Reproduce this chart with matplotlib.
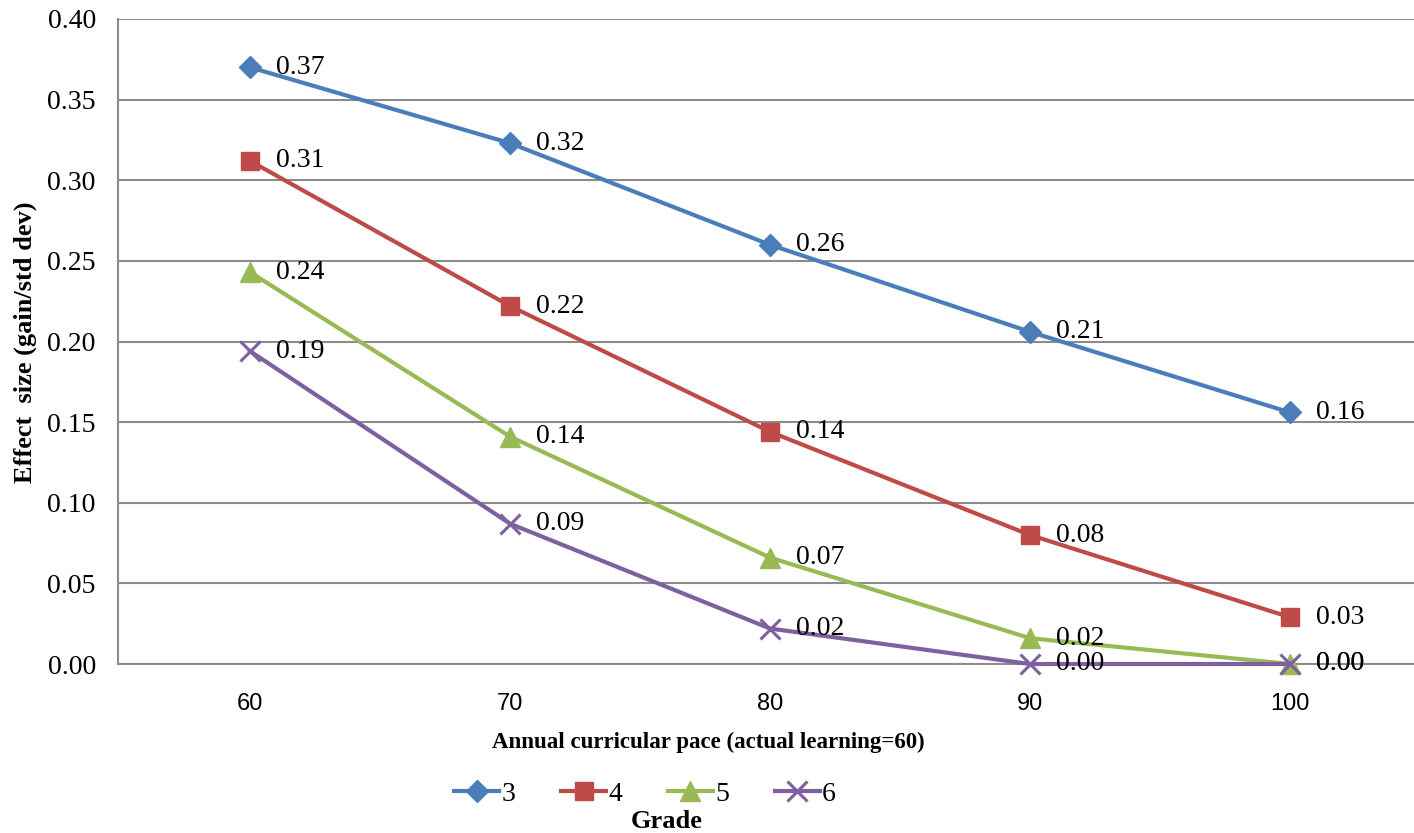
import matplotlib
matplotlib.use("Agg")
import matplotlib.pyplot as plt

# Effect size by grade across annual curricular pace
paces = ["60", "70", "80", "90", "100"]
grades = ["3", "4", "5", "6"]
grade3 = [0.370, 0.323, 0.260, 0.206, 0.156]
grade4 = [0.312, 0.222, 0.144, 0.080, 0.029]
grade5 = [0.243, 0.141, 0.066, 0.016, 0.000]
grade6 = [0.194, 0.087, 0.022, 0.000, 0.000]
yticks = [0.00, 0.05, 0.10, 0.15, 0.20, 0.25, 0.30, 0.35, 0.40]

series = [grade3, grade4, grade5, grade6]
colors = ["#4A7EBB", "#BE4B48", "#98B954", "#7D60A0"]
markers = ["D", "s", "^", "x"]
msizes = [11, 13, 14, 14]

W, H = 1414, 833
fig = plt.figure(figsize=(W / 100, H / 100), dpi=100)
ax = fig.add_axes([118 / W, 1 - 664 / H, (W - 118) / W, (664 - 19) / H])

serif = "Liberation Serif"
sans = "Liberation Sans"

x = list(range(len(paces)))
handles = []
for vals, c, m, ms, g in zip(series, colors, markers, msizes, grades):
    mew = 2.2 if m == "x" else 1
    h, = ax.plot(x, vals, color=c, lw=3.0, marker=m, markersize=ms,
                 markeredgewidth=mew, markeredgecolor=c, markerfacecolor=c,
                 clip_on=False, zorder=3, label=g)
    handles.append(h)
    for xi, v in zip(x, vals):
        ax.annotate(f"{v:.2f}", (xi, v), xytext=(26, 0), textcoords="offset pixels",
                    ha="left", va="center", fontsize=20, family=serif,
                    annotation_clip=False, zorder=4)

ax.set_xlim(-0.508, 4.477)
ax.set_ylim(0, 0.40)
ax.set_yticks(yticks)
ax.set_yticklabels([f"{t:.2f}" for t in yticks], family=serif, fontsize=20)
ax.set_xticks(x)
ax.set_xticklabels(paces, family=sans, fontsize=17)
ax.tick_params(axis="both", length=0)
ax.tick_params(axis="y", pad=16)
ax.tick_params(axis="x", pad=21)
ax.yaxis.grid(True, color="#8C8C8C", lw=1.5)
ax.set_axisbelow(True)
for s in ["top", "right"]:
    ax.spines[s].set_visible(False)
for s in ["left", "bottom"]:
    ax.spines[s].set_color("#8C8C8C")
    ax.spines[s].set_linewidth(1.5)

fig.text(708 / W, 1 - 742 / H, "Annual curricular pace (actual learning=60)",
         ha="center", va="center", family=serif, fontweight="bold", fontsize=16.5)
fig.text(25 / W, 1 - 342 / H, "Effect  size (gain/std dev)", rotation=90,
         ha="center", va="center", family=serif, fontweight="bold", fontsize=19)

leg = fig.legend(handles=handles, loc="center", bbox_to_anchor=(645 / W, 1 - 794 / H),
                 ncol=4, frameon=False, prop={"family": serif, "size": 20},
                 handlelength=1.62, handletextpad=0.08, columnspacing=1.65,
                 borderpad=0, borderaxespad=0)
fig.text(667 / W, 1 - 822 / H, "Grade", ha="center", va="center",
         family=serif, fontweight="bold", fontsize=19)

fig.savefig("out.png", dpi=100, facecolor="white")
